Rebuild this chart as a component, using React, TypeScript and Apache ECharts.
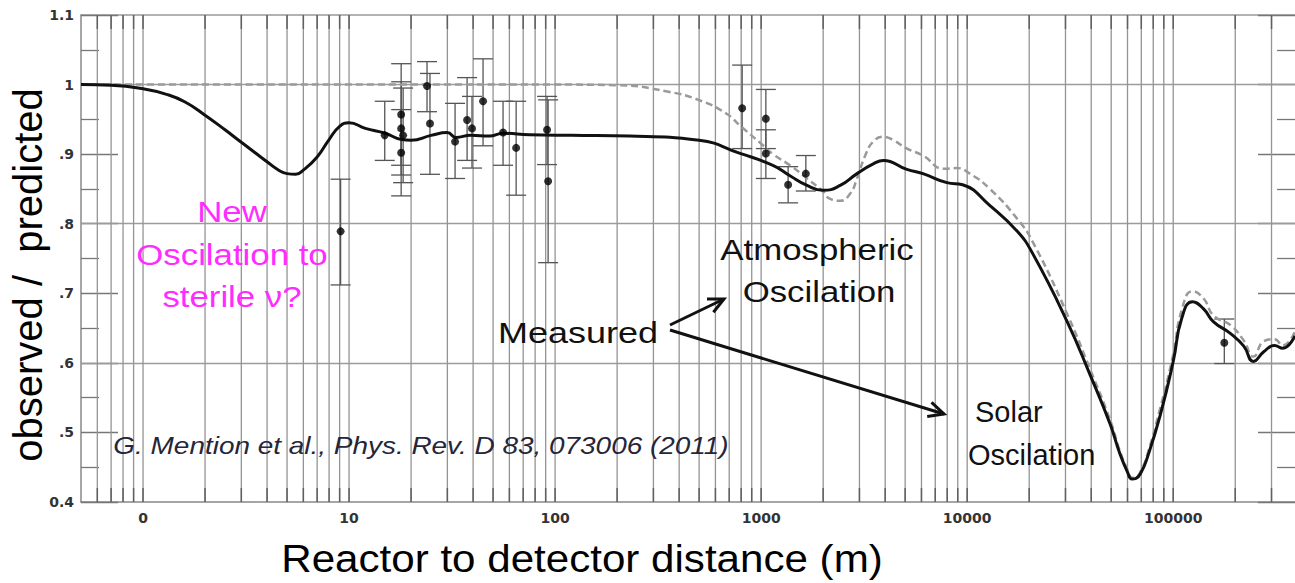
import React, { useEffect, useRef } from 'react';
import * as echarts from 'echarts';

// ---- axis settings / tick labels ----
const X_MIN = 0.5;
const X_MAX = 390000;
const Y_MIN = 0.4;
const Y_MAX = 1.1;
const xTickValues = [1, 10, 100, 1000, 10000, 100000];
const xTickLabels = ['0', '10', '100', '1000', '10000', '100000'];
const yTickValues = [0.4, 0.5, 0.6, 0.7, 0.8, 0.9, 1.0, 1.1];
const yTickLabels = ['0.4', '.5', '.6', '.7', '.8', '.9', '1', '1.1'];
const yFullGridValues = [1.0, 0.8, 0.6];

// ---- solid curve (with sterile oscillation) ----
const solidX = [0.5, 0.7, 1, 1.3, 1.6, 2, 2.5, 3, 3.5, 4, 4.5, 5, 5.5, 6, 7, 8, 9, 10, 12, 15, 18, 20, 25, 30, 33, 39, 48, 56, 75, 120, 230, 500, 790, 1140, 1380, 1670, 2000, 2420, 2920, 3500, 3920, 5100, 6100, 7970, 9500, 12900, 17500, 20800, 30600, 39600, 49400, 55000, 60000, 63000, 66000, 70000, 74500, 86500, 100000, 110000, 124000, 140000, 157000, 190000, 220000, 245000, 275000, 310000, 340000, 390000];
const solidY = [1.0, 0.999, 0.994, 0.986, 0.975, 0.956, 0.935, 0.917, 0.902, 0.889, 0.878, 0.872, 0.871, 0.877, 0.896, 0.921, 0.940, 0.945, 0.937, 0.930, 0.921, 0.920, 0.927, 0.931, 0.924, 0.927, 0.926, 0.930, 0.928, 0.927, 0.926, 0.920, 0.901, 0.884, 0.869, 0.855, 0.848, 0.855, 0.872, 0.886, 0.891, 0.878, 0.872, 0.859, 0.856, 0.826, 0.789, 0.757, 0.659, 0.582, 0.512, 0.470, 0.443, 0.433, 0.434, 0.443, 0.462, 0.525, 0.602, 0.664, 0.688, 0.678, 0.659, 0.642, 0.624, 0.602, 0.616, 0.625, 0.621, 0.639];

// ---- dashed curve (standard 3-flavour) ----
const dashedX = [0.5, 100, 200, 350, 507, 680, 790, 1000, 1140, 1380, 1670, 2000, 2150, 2420, 2700, 2920, 3200, 3500, 3920, 4380, 5100, 6100, 7700, 8900, 10300, 12900, 17500, 20800, 30600, 39600, 49400, 55000, 60000, 63000, 66000, 70000, 74500, 86500, 100000, 110000, 124000, 140000, 157000, 190000, 220000, 245000, 275000, 310000, 340000, 390000];
const dashedY = [1.0, 1.0, 0.999, 0.99, 0.977, 0.958, 0.941, 0.915, 0.900, 0.884, 0.865, 0.846, 0.836, 0.833, 0.843, 0.865, 0.898, 0.918, 0.925, 0.920, 0.908, 0.898, 0.879, 0.880, 0.872, 0.850, 0.807, 0.774, 0.670, 0.590, 0.518, 0.474, 0.446, 0.435, 0.436, 0.446, 0.466, 0.535, 0.612, 0.676, 0.703, 0.693, 0.668, 0.654, 0.632, 0.609, 0.631, 0.634, 0.625, 0.645];

// ---- measured points with error bars ----
const pointX = [9.1, 14.9, 17.9, 17.9, 18.3, 17.9, 23.9, 24.7, 32.7, 37.4, 39.5, 44.7, 55.9, 64.7, 91.4, 92.5, 809, 1054, 1054, 1352, 1648, 177000];
const pointY = [0.789, 0.927, 0.957, 0.937, 0.927, 0.902, 0.998, 0.944, 0.918, 0.949, 0.937, 0.976, 0.931, 0.909, 0.935, 0.861, 0.966, 0.951, 0.901, 0.856, 0.872, 0.629];
const errLow = [0.712, 0.891, 0.884, 0.870, 0.859, 0.840, 0.961, 0.871, 0.865, 0.891, 0.880, 0.912, 0.884, 0.841, 0.885, 0.744, 0.908, 0.908, 0.865, 0.830, 0.847, 0.599];
const errHigh = [0.864, 0.976, 1.030, 1.004, 0.995, 0.964, 1.033, 1.016, 0.973, 1.010, 0.983, 1.037, 0.976, 0.976, 0.983, 0.978, 1.028, 0.993, 0.935, 0.882, 0.898, 0.663];

const FONT = '"Liberation Sans", Arial, sans-serif';

function gridValues(): number[] {
  const vals: number[] = [];
  for (let k = -1; k <= 5; k++) {
    for (let m = 1; m <= 9; m++) {
      const v = +(m * Math.pow(10, k)).toPrecision(6);
      if (v > X_MIN && v < X_MAX) vals.push(v);
    }
  }
  return vals;
}

function txt(text: string, x: number, y: number, size: number, o: any = {}) {
  return {
    type: 'text',
    x,
    y,
    scaleX: o.sx ?? 1,
    rotation: o.rot ?? 0,
    z: 20,
    silent: true,
    style: {
      text,
      x: 0,
      y: 0,
      fill: o.color ?? '#111',
      fontSize: size,
      fontFamily: FONT,
      fontStyle: o.italic ? 'italic' : 'normal',
      textAlign: o.align ?? 'center',
      verticalAlign: 'middle',
    },
  };
}

function arrow(x1: number, y1: number, x2: number, y2: number) {
  const a = Math.atan2(y2 - y1, x2 - x1);
  const L = 17;
  const s = 0.45;
  const p1 = [x2 - L * Math.cos(a - s), y2 - L * Math.sin(a - s)];
  const p2 = [x2 - L * Math.cos(a + s), y2 - L * Math.sin(a + s)];
  return [
    { type: 'line', z: 20, silent: true, shape: { x1, y1, x2, y2 }, style: { stroke: '#111', lineWidth: 3 } },
    { type: 'polyline', z: 20, silent: true, shape: { points: [p1, [x2, y2], p2] }, style: { stroke: '#111', lineWidth: 3, fill: null } },
  ];
}

function xLabel(v: number): string {
  for (let i = 0; i < xTickValues.length; i++) {
    if (Math.abs(v - xTickValues[i]) / xTickValues[i] < 1e-6) return xTickLabels[i];
  }
  return '';
}
function yLabel(v: number): string {
  for (let i = 0; i < yTickValues.length; i++) {
    if (Math.abs(v - yTickValues[i]) < 1e-6) return yTickLabels[i];
  }
  return '';
}

export default function App() {
  const ref = useRef<HTMLDivElement>(null);
  useEffect(() => {
    const chart = echarts.init(ref.current!, null, { renderer: 'svg' });
    const gv = gridValues();
    const tickStyle = { color: '#777', width: 1.3 };
    const option: any = {
      animation: false,
      backgroundColor: '#fff',
      grid: { left: 81, right: 0, top: 15, bottom: 81, containLabel: false },
      xAxis: [
        {
          type: 'log', logBase: 10, min: X_MIN, max: X_MAX, position: 'bottom',
          axisLine: { show: true, lineStyle: { color: '#888', width: 1.5 } },
          axisTick: { show: false }, splitLine: { show: false },
          axisLabel: {
            formatter: (v: number) => xLabel(v), fontFamily: 'DejaVu Sans', fontWeight: 'bold',
            fontSize: 14, color: '#333', margin: 9, showMinLabel: false, showMaxLabel: false,
          },
        },
        {
          type: 'log', logBase: 10, min: X_MIN, max: X_MAX, position: 'top',
          axisLine: { show: true, lineStyle: { color: '#999', width: 1.5 } },
          axisTick: { show: false }, splitLine: { show: false }, axisLabel: { show: false },
        },
      ],
      yAxis: [
        {
          type: 'value', min: Y_MIN, max: Y_MAX, interval: 0.1, position: 'left',
          axisLine: { show: true, lineStyle: { color: '#888', width: 1.5 } },
          axisTick: { show: true, inside: true, length: 37, lineStyle: tickStyle },
          minorTick: { show: true, splitNumber: 2, length: 18, lineStyle: tickStyle },
          splitLine: { show: false },
          axisLabel: {
            formatter: (v: number) => yLabel(v), fontFamily: 'DejaVu Sans', fontWeight: 'bold',
            fontSize: 14, color: '#333', margin: 7,
          },
        },
        {
          type: 'value', min: Y_MIN, max: Y_MAX, interval: 0.1, position: 'right',
          axisLine: { show: false },
          axisTick: { show: true, inside: true, length: 37, lineStyle: tickStyle },
          minorTick: { show: true, splitNumber: 2, length: 18, lineStyle: tickStyle },
          splitLine: { show: false }, axisLabel: { show: false },
        },
      ],
      series: [
        {
          type: 'custom', name: 'grid', silent: true, z: 1,
          data: gv.map((v) => [v, 0.75]),
          encode: { x: 0, y: 1 },
          renderItem: (_p: any, api: any) => {
            const v = api.value(0);
            const t = api.coord([v, Y_MAX]);
            const b = api.coord([v, Y_MIN]);
            return {
              type: 'group',
              children: [
                { type: 'line', shape: { x1: t[0], y1: t[1], x2: b[0], y2: b[1] }, style: { stroke: '#949494', lineWidth: 1.3 } },
                { type: 'line', shape: { x1: t[0], y1: t[1], x2: t[0], y2: t[1] + 14 }, style: { stroke: '#606060', lineWidth: 1.5 } },
                { type: 'line', shape: { x1: b[0], y1: b[1] - 14, x2: b[0], y2: b[1] }, style: { stroke: '#606060', lineWidth: 1.5 } },
              ],
            };
          },
        },
        {
          type: 'custom', name: 'errors', silent: true, z: 3,
          data: pointX.map((x, i) => [x, errLow[i], errHigh[i]]),
          encode: { x: 0, y: [1, 2] },
          renderItem: (_p: any, api: any) => {
            const x = api.value(0);
            const lo = api.coord([x, api.value(1)]);
            const hi = api.coord([x, api.value(2)]);
            const w = 10;
            const st = { stroke: '#555', lineWidth: 1.3 };
            return {
              type: 'group',
              children: [
                { type: 'line', shape: { x1: hi[0], y1: hi[1], x2: lo[0], y2: lo[1] }, style: st },
                { type: 'line', shape: { x1: hi[0] - w, y1: hi[1], x2: hi[0] + w, y2: hi[1] }, style: st },
                { type: 'line', shape: { x1: lo[0] - w, y1: lo[1], x2: lo[0] + w, y2: lo[1] }, style: st },
              ],
            };
          },
        },
        {
          type: 'line', name: 'no sterile', z: 4, symbol: 'none', smooth: 0.5,
          data: dashedX.map((x, i) => [x, dashedY[i]]),
          lineStyle: { color: '#9a9a9a', width: 2.5, type: [7, 4] },
          markLine: {
            silent: true, symbol: 'none', label: { show: false },
            lineStyle: { color: '#9c9c9c', width: 1.3, type: 'solid' },
            data: yFullGridValues.map((v) => ({ yAxis: v })),
            z: 1,
          },
        },
        {
          type: 'line', name: 'sterile', z: 5, symbol: 'none', smooth: 0.5,
          data: solidX.map((x, i) => [x, solidY[i]]),
          lineStyle: { color: '#111', width: 3 },
        },
        {
          type: 'scatter', name: 'measured', z: 6, symbol: 'circle', symbolSize: 8,
          data: pointX.map((x, i) => [x, pointY[i]]),
          itemStyle: { color: '#000' },
        },
      ],
      graphic: [
        txt('Reactor to detector distance (m)', 582, 559, 39, { sx: 1.08, color: '#000' }),
        txt('observed /  predicted', 28, 275, 40, { rot: Math.PI / 2, color: '#000' }),
        txt('New', 232, 212, 29, { sx: 1.2, color: '#ff2bff' }),
        txt('Oscilation to', 232, 255, 29, { sx: 1.2, color: '#ff2bff' }),
        txt('sterile \u03bd?', 232, 297, 29, { sx: 1.2, color: '#ff2bff' }),
        txt('Atmospheric', 817, 250, 29, { sx: 1.2 }),
        txt('Oscilation', 819, 292, 29, { sx: 1.2 }),
        txt('Measured', 578, 333, 30, { sx: 1.2 }),
        txt('Solar', 975, 412, 29, { align: 'left' }),
        txt('Oscilation', 968, 455, 29, { align: 'left' }),
        txt('G. Mention et al., Phys. Rev. D 83, 073006 (2011)', 421, 446, 23, { sx: 1.215, italic: true, color: '#262638' }),
        ...arrow(670, 325, 724, 299),
        ...arrow(670, 330, 944, 414),
      ],
    };
    chart.setOption(option);
    return () => chart.dispose();
  }, []);
  return <div ref={ref} style={{ position: 'absolute', left: 0, top: 0, width: 1295, height: 583 }} />;
}
